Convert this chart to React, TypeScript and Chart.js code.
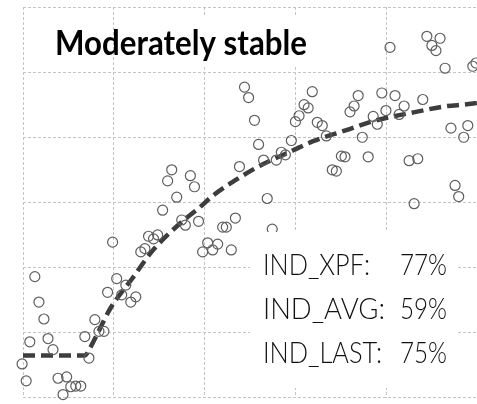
import { useEffect, useRef } from 'react';
import { Chart, registerables } from 'chart.js';

Chart.register(...registerables);

// Observations (x = exposure score, y = stability score)
const POINT_X = [
  32.7, 31.8, 36.8, 37.7, 33.8, 30.7, 34.9, 35.7, 38.6, 19.7,
  27.6, 28.7, 29.6, 26.8, 25.9, 40.6, 42.8, 39.5, 41.7, 45.8,
  43.9, 44.7, 46.7, 54.8, 53.7, 47.6, 52.9, 51.8, 50.9, 48.7,
  49.6, 60.7, 59.9, 61.8, 62.7, 63.6, 64.7, 65.8, 66.7, 59.0,
  56.8, 55.7, 57.7, 70.0, 70.8, 68.0, 68.9, 75.9, 74.6, 73.7,
  72.8, 71.9, 78.9, 81.8, 83.8, 79.8, 82.7, 77.0, 77.9, 87.9,
  84.9, 86.8, 94.1, 97.8, 96.9, 95.0, 95.8, 86.0, 80.7, 88.8,
  91.7, 89.9, 90.8, 92.8, 98.9, 99.6, 2.6, 3.5, 4.6, 5.5,
  1.5, 6.6, -0.2, 0.7, 20.6, 18.6, 21.7, 22.6, 23.7, 24.8,
  15.8, 16.7, 17.8, 13.6, 14.5, 7.7, 9.6, 10.5, 11.6, 12.7,
  8.8,
];
const POINT_Y = [
  35.0, 33.3, 34.1, 32.4, 30.8, 28.8, 27.3, 26.5, 27.1, 23.9,
  24.8, 24.4, 25.0, 22.9, 22.4, 23.8, 23.6, 22.4, 22.7, 22.7,
  26.2, 26.2, 27.6, 25.9, 30.6, 35.5, 36.5, 38.9, 42.6, 47.7,
  46.1, 43.3, 42.4, 45.0, 44.5, 47.0, 42.3, 41.8, 40.2, 39.5,
  37.7, 36.5, 37.3, 37.1, 37.0, 35.0, 34.8, 37.0, 40.0, 46.4,
  44.8, 43.9, 46.8, 46.4, 44.8, 44.1, 43.5, 43.2, 42.0, 45.8,
  36.4, 36.7, 41.4, 41.8, 40.0, 32.6, 30.9, 29.8, 53.8, 55.5,
  55.2, 54.1, 53.3, 50.6, 50.9, 51.4, 18.6, 14.7, 12.1, 9.1,
  8.6, 7.4, 5.2, 2.6, 18.3, 16.2, 15.8, 17.3, 14.7, 15.5,
  12.0, 10.2, 10.2, 9.4, 6.1, 3.0, 3.2, 1.7, 1.8, 1.8,
  0.5,
];

// Fitted response curve
const FIT_X = [0, 13.6, 14.7, 16.9, 19.1, 24.1, 28.5, 34.4, 38.8, 41.7, 47.6, 52.0, 59.4, 63.8, 71.1, 76.1, 81.4, 86.4, 92.3, 98.0, 100];
const FIT_Y = [6.5, 6.5, 7.6, 10.6, 13.6, 18.4, 22.6, 26.7, 29.2, 31.0, 33.8, 35.6, 38.0, 39.4, 41.1, 42.3, 43.2, 43.9, 44.7, 45.1, 45.3];

const TITLE = 'Moderately stable';
const INDICATOR_NAMES = ['IND_XPF:', 'IND_AVG:', 'IND_LAST:'];
const INDICATOR_VALUES = [77, 59, 75];

// Draw text stretched/squeezed horizontally so that it spans the given width
function drawFitted(ctx: CanvasRenderingContext2D, text: string, x: number, y: number, width: number) {
  const sx = width / ctx.measureText(text).width;
  ctx.save();
  ctx.translate(x, y);
  ctx.scale(sx, 1);
  ctx.fillText(text, 0, 0);
  ctx.restore();
}

const overlayPlugin = {
  id: 'overlay',
  afterDatasetsDraw(chart: Chart) {
    const ctx = chart.ctx;
    ctx.save();
    ctx.fillStyle = '#ffffff';
    ctx.fillRect(120, 17, 200, 50);
    ctx.fillRect(250, 232, 206, 156);

    ctx.textBaseline = 'alphabetic';
    ctx.textAlign = 'left';
    ctx.fillStyle = '#000000';
    ctx.font = 'bold 35px Lato';
    drawFitted(ctx, TITLE, 55, 55, 252);

    ctx.fillStyle = '#111111';
    ctx.font = '300 30px Lato';
    const baselines = [275, 319, 363];
    const nameWidths = [107, 122, 119];
    INDICATOR_NAMES.forEach((name, i) => {
      drawFitted(ctx, name, 263, baselines[i], nameWidths[i]);
      drawFitted(ctx, `${INDICATOR_VALUES[i]}%`, 400, baselines[i], 47);
    });
    ctx.restore();
  },
};

export default function App() {
  const ref = useRef<HTMLCanvasElement>(null);

  useEffect(() => {
    if (!ref.current) return;
    const gridStyle = {
      color: '#c4c4c4',
      lineWidth: 1,
      drawTicks: false,
    };
    const chart = new Chart(ref.current, {
      type: 'scatter',
      data: {
        datasets: [
          {
            label: 'observations',
            data: POINT_X.map((x, i) => ({ x, y: POINT_Y[i] })),
            pointStyle: 'circle',
            pointRadius: 5,
            pointBorderWidth: 1.2,
            pointBorderColor: '#5e5e5e',
            pointBackgroundColor: 'rgba(0,0,0,0)',
            showLine: false,
            clip: false,
          },
          {
            label: 'fit',
            data: FIT_X.map((x, i) => ({ x, y: FIT_Y[i] })),
            showLine: true,
            pointRadius: 0,
            borderColor: '#3d3d3d',
            borderWidth: 4.5,
            borderDash: [12, 6],
            cubicInterpolationMode: 'monotone',
            fill: false,
          },
        ],
      },
      options: {
        animation: false,
        responsive: false,
        events: [],
        layout: { padding: { left: 23, top: 7, right: 5, bottom: 1 } },
        plugins: { legend: { display: false }, tooltip: { enabled: false } },
        scales: {
          x: {
            type: 'linear',
            min: 0,
            max: 100,
            ticks: { display: false, stepSize: 20 },
            grid: { ...gridStyle },
            border: { display: false, dash: [3, 2] },
          },
          y: {
            type: 'linear',
            min: 0,
            max: 60,
            ticks: { display: false, stepSize: 10 },
            grid: { ...gridStyle },
            border: { display: false, dash: [3, 2] },
          },
        },
      },
      plugins: [overlayPlugin],
    });
    return () => chart.destroy();
  }, []);

  return (
    <div style={{ position: 'fixed', left: 0, top: 0, width: 477, height: 404, overflow: 'hidden', background: '#fff' }}>
      <canvas ref={ref} width={484} height={404} style={{ display: 'block' }} />
    </div>
  );
}
